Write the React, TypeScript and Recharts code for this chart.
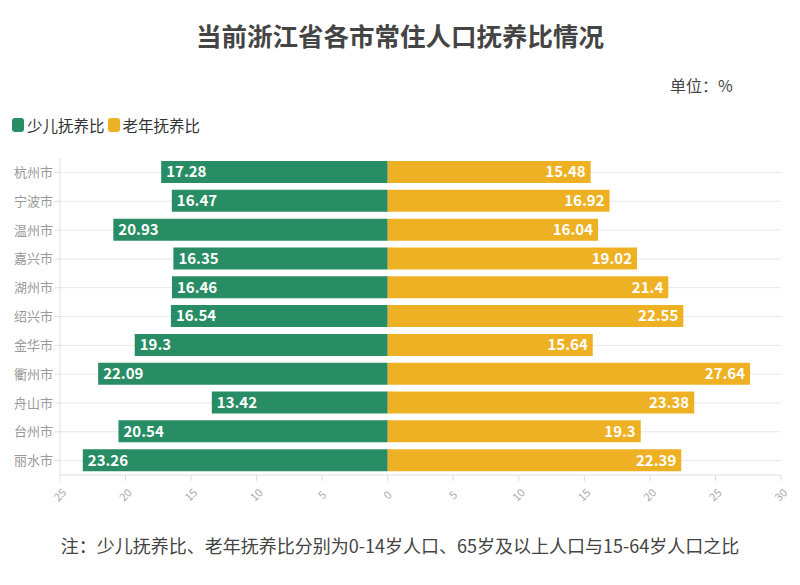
import React from 'react';
import {Bar, BarChart, CartesianGrid, LabelList, XAxis, YAxis} from 'recharts';

const cities = ['杭州市', '宁波市', '温州市', '嘉兴市', '湖州市', '绍兴市', '金华市', '衢州市', '舟山市', '台州市', '丽水市'];
const childRatio = [17.28, 16.47, 20.93, 16.35, 16.46, 16.54, 19.3, 22.09, 13.42, 20.54, 23.26];
const elderRatio = [15.48, 16.92, 16.04, 19.02, 21.4, 22.55, 15.64, 27.64, 23.38, 19.3, 22.39];
const xTicks = [-25, -20, -15, -10, -5, 0, 5, 10, 15, 20, 25, 30];

const GREEN = '#288d64';
const YELLOW = '#eeb124';
const FONT = '"Noto Sans CJK SC", "Noto Sans", sans-serif';

const data = cities.map((city, i) => ({
    city,
    child: -childRatio[i],
    elder: elderRatio[i],
}));

function XTick({x, y, payload}: any) {
    return (
        <g transform={`translate(${x},${y + 12}) rotate(-45)`}>
            <text textAnchor="middle" dy="0.35em" fill="#aaa" fontSize={11} fontFamily={FONT}>
                {Math.abs(payload.value)}
            </text>
        </g>
    );
}

// bar value label, drawn at the outer end of the bar
function EndLabel(side: 'left' | 'right') {
    return (props: any) => {
        const {x, y, width, height, value} = props;
        const left = Math.min(x, x + width);
        const right = Math.max(x, x + width);
        const tx = side === 'left' ? left + 5 : right - 5;
        return (
            <text x={tx} y={y + height / 2} dy="0.36em" textAnchor={side === 'left' ? 'start' : 'end'}
                  fill="#fff" fontWeight="bold" fontSize={15} fontFamily={FONT}>
                {Math.abs(Number(value))}
            </text>
        );
    };
}

// grid lines only through the category centres, no line on the top edge
const rowLines = ({offset}: any) => {
    if (!offset) return [];
    const n = cities.length;
    return cities.map((_, i) => offset.top + (offset.height * (i + 0.5)) / n);
};

function LegendBox() {
    const items = [
        {name: '少儿抚养比', color: GREEN},
        {name: '老年抚养比', color: YELLOW},
    ];
    return (
        <div style={{position: 'absolute', top: 115, left: 12, display: 'flex', alignItems: 'center', fontSize: 15.5, color: '#333', lineHeight: '20px'}}>
            {items.map(it => (
                <div key={it.name} style={{display: 'flex', alignItems: 'center', marginRight: 3}}>
                    <span style={{width: 12, height: 14, background: it.color, borderRadius: 3, marginRight: 3, display: 'inline-block'}} />
                    <span>{it.name}</span>
                </div>
            ))}
        </div>
    );
}

export default function App() {
    return (
        <div style={{position: 'absolute', left: 0, top: 0, width: 800, height: 585, background: '#fff', fontFamily: FONT}}>
            <div style={{position: 'absolute', top: 17, left: 0, width: 800, textAlign: 'center', fontSize: 25.5, fontWeight: 'bold', color: '#444', lineHeight: '36px'}}>
                当前浙江省各市常住人口抚养比情况
            </div>
            <div style={{position: 'absolute', top: 74, left: 670, fontSize: 16, color: '#444', lineHeight: '22px'}}>
                单位：%
            </div>
            <LegendBox />
            <div style={{position: 'absolute', top: 532, left: 0, width: 800, textAlign: 'center', fontSize: 18, color: '#444', lineHeight: '26px'}}>
                注：少儿抚养比、老年抚养比分别为0-14岁人口、65岁及以上人口与15-64岁人口之比
            </div>
            <BarChart
                width={800}
                height={585}
                data={data}
                layout="vertical"
                stackOffset="sign"
                margin={{top: 158, right: 19, left: 0, bottom: 70}}
            >
                <CartesianGrid vertical={false} stroke="#e8e8e8" horizontalCoordinatesGenerator={rowLines} />
                <XAxis
                    type="number"
                    domain={[-25, 30]}
                    ticks={xTicks}
                    interval={0}
                    height={40}
                    axisLine={{stroke: '#ddd'}}
                    tickLine={{stroke: '#ddd'}}
                    tick={<XTick />}
                />
                <YAxis
                    type="category"
                    dataKey="city"
                    width={60}
                    axisLine={{stroke: '#e0e0e0'}}
                    tickLine={{stroke: '#ddd'}}
                    tickSize={5}
                    tick={{fill: '#999', fontSize: 13, fontFamily: FONT}}
                />
                <Bar dataKey="child" name="少儿抚养比" stackId="a" fill={GREEN} barSize={22} isAnimationActive={false}>
                    <LabelList dataKey="child" content={EndLabel('left')} />
                </Bar>
                <Bar dataKey="elder" name="老年抚养比" stackId="a" fill={YELLOW} barSize={22} isAnimationActive={false}>
                    <LabelList dataKey="elder" content={EndLabel('right')} />
                </Bar>
            </BarChart>
        </div>
    );
}
